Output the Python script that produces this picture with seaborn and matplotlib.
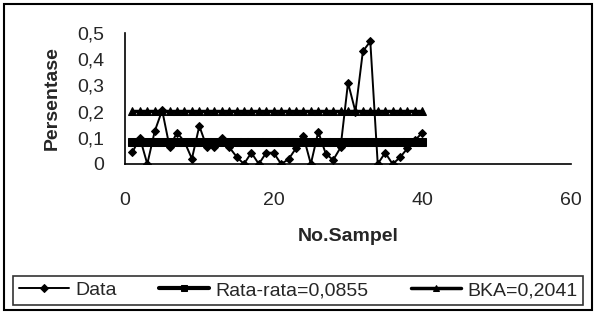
import matplotlib
matplotlib.use("Agg")
import matplotlib.pyplot as plt
import pandas as pd
import seaborn as sns
from matplotlib.patches import Rectangle

# values
sampel = list(range(1, 41))
persen = [0.045, 0.10, 0.00, 0.125, 0.205, 0.065, 0.12, 0.085, 0.02, 0.145,
          0.065, 0.065, 0.10, 0.065, 0.028, 0.00, 0.043, 0.00, 0.043, 0.043,
          0.00, 0.018, 0.06, 0.106, 0.00, 0.123, 0.04, 0.015, 0.063, 0.31,
          0.20, 0.43, 0.468, 0.00, 0.043, 0.00, 0.025, 0.06, 0.09, 0.12]
rata_rata = 0.0855
bka = 0.2041
x_ticks = [0, 20, 40, 60]
y_ticks = [0, 0.1, 0.2, 0.3, 0.4, 0.5]
y_tick_labels = ["0", "0,1", "0,2", "0,3", "0,4", "0,5"]

df = pd.DataFrame({"No": sampel, "Data": persen})
df["Rata"] = rata_rata
df["BKA"] = bka

sns.set_style("white")
plt.rcParams["font.family"] = ["Liberation Sans", "DejaVu Sans"]

fig = plt.figure(figsize=(5.99, 3.13), dpi=100)
ax = fig.add_axes([125 / 599, 1 - 164 / 313, 446 / 599, 131 / 313])

sns.lineplot(data=df, x="No", y="BKA", ax=ax, color="black", linewidth=2.5,
             marker="^", markersize=5.5, markeredgecolor="black",
             label="BKA=0,2041")
sns.lineplot(data=df, x="No", y="Rata", ax=ax, color="black", linewidth=3,
             marker="s", markersize=5.5, markeredgecolor="black",
             label="Rata-rata=0,0855")
sns.lineplot(data=df, x="No", y="Data", ax=ax, color="black", linewidth=1.4,
             marker="D", markersize=4.5, markeredgecolor="black",
             label="Data")

ax.set_xlim(0, 60)
ax.set_ylim(0, 0.5)
ax.set_xticks(x_ticks)
ax.set_yticks(y_ticks)
ax.set_yticklabels(y_tick_labels)
ax.tick_params(axis="both", direction="out", length=4, width=1, color="black",
               labelsize=14)
ax.tick_params(axis="x", pad=16)
ax.tick_params(axis="y", pad=11)
for side in ["top", "right"]:
    ax.spines[side].set_visible(False)
for side in ["left", "bottom"]:
    ax.spines[side].set_color("black")
    ax.spines[side].set_linewidth(1.2)

ax.set_xlabel("No.Sampel", fontsize=14, fontweight="bold", labelpad=14)
ax.set_ylabel("Persentase", fontsize=14, fontweight="bold", labelpad=12)

handles, labels = ax.get_legend_handles_labels()
order = [2, 1, 0]
ax.get_legend().remove()
leg = fig.legend([handles[i] for i in order], [labels[i] for i in order],
                 loc="lower left", ncol=3, mode="expand",
                 bbox_to_anchor=(13 / 599, 8 / 313, 570 / 599, 33 / 313),
                 fontsize=14, frameon=True, fancybox=False, numpoints=1,
                 handlelength=2.6, handletextpad=0.3, borderaxespad=0,
                 borderpad=0.3, markerscale=0.8)
leg.get_frame().set_edgecolor("black")
leg.get_frame().set_linewidth(1.2)

fig.patches.append(Rectangle((4 / 599, 3 / 313), 588 / 599, 306 / 313,
                             transform=fig.transFigure, fill=False,
                             edgecolor="black", linewidth=1.5))

fig.savefig("out.png", dpi=100)
plt.close(fig)
